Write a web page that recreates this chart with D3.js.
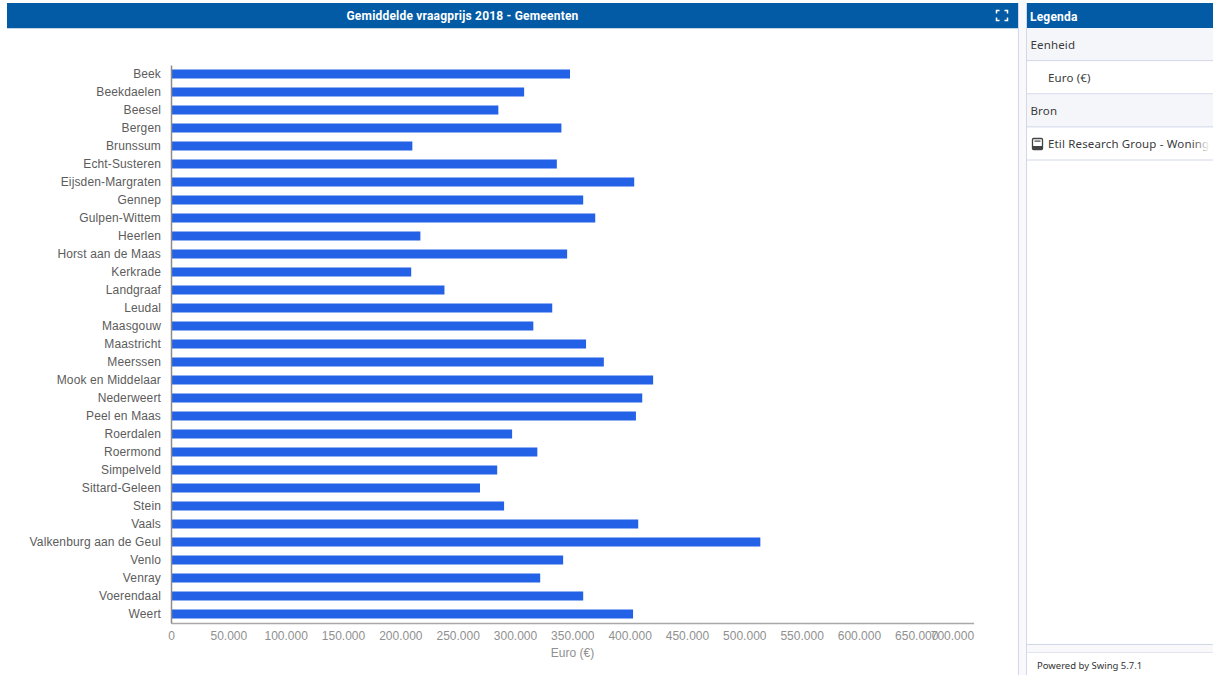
<!DOCTYPE html>
<html>
<head>
<meta charset="utf-8">
<script src="https://d3js.org/d3.v7.min.js"></script>
<style>
	html, body { margin: 0; padding: 0; background: #fff; overflow: hidden; }
	svg { display: block; }
	.tick line { display: none; }
</style>
</head>
<body>
<div id="chart"></div>
<script>
// gemeenten, van boven naar beneden
const gemeenten = ["Beek", "Beekdaelen", "Beesel", "Bergen", "Brunssum", "Echt-Susteren", "Eijsden-Margraten", "Gennep", "Gulpen-Wittem", "Heerlen", "Horst aan de Maas", "Kerkrade", "Landgraaf", "Leudal", "Maasgouw", "Maastricht", "Meerssen", "Mook en Middelaar", "Nederweert", "Peel en Maas", "Roerdalen", "Roermond", "Simpelveld", "Sittard-Geleen", "Stein", "Vaals", "Valkenburg aan de Geul", "Venlo", "Venray", "Voerendaal", "Weert"]
const vraagprijs = [348000, 308000, 285500, 340500, 210500, 336500, 404000, 359500, 370000, 217500, 345500, 209500, 238500, 332500, 316000, 362000, 377500, 420500, 411000, 405500, 297500, 319500, 284500, 269500, 290500, 407500, 514000, 342000, 322000, 359500, 403000]
const xTicks = [0, 50000, 100000, 150000, 200000, 250000, 300000, 350000, 400000, 450000, 500000, 550000, 600000, 650000, 700000]
const legendaRijen = ["Eenheid", "Euro (€)", "Bron", "Etil Research Group - Woningmarkt"]

const width = 1213
const height = 675
const margin = { top: 65, right: 239, bottom: 52, left: 171 }
const uiFont = "'Noto Sans', 'Open Sans', sans-serif"
const chartFont = "'Liberation Sans', Arial, sans-serif"

const svg = d3.select("#chart")
	.append("svg")
	.attr("width", width)
	.attr("height", height)

// linker paneel
svg.append("rect")
	.attr("x", 7).attr("y", 3)
	.attr("width", 1011.5).attr("height", 25)
	.attr("fill", "#035ba5")
svg.append("rect")
	.attr("x", 1019).attr("y", 0)
	.attr("width", 7).attr("height", 675)
	.attr("fill", "#f9f9fb")
svg.append("line")
	.attr("x1", 7).attr("x2", 1018)
	.attr("y1", 28.5).attr("y2", 28.5)
	.attr("stroke", "#c3d3e4")
svg.append("line")
	.attr("x1", 1018.5).attr("x2", 1018.5)
	.attr("y1", 3).attr("y2", 675)
	.attr("stroke", "#d3d7ea")
svg.append("text")
	.attr("x", 462.5).attr("y", 20)
	.attr("text-anchor", "middle")
	.style("font-family", "Roboto, sans-serif")
	.style("font-size", "12px")
	.style("font-weight", "bold")
	.style("letter-spacing", "0.2px")
	.style("fill", "#fff")
	.text("Gemiddelde vraagprijs 2018 - Gemeenten")

// fullscreen icoon
const icon = svg.append("g")
	.attr("transform", "translate(996.5,10.5)")
	.attr("fill", "none")
	.attr("stroke", "#fff")
	.attr("stroke-width", 1.5)
icon.selectAll("path")
	.data(["M0 3V0H3", "M8 0H11V3", "M11 7V10H8", "M3 10H0V7"])
	.join("path")
	.attr("d", d => d)

// schalen
const innerWidth = width - margin.left - margin.right - 0.4
const xScale = d3.scaleLinear()
	.domain([0, 700000])
	.range([margin.left, margin.left + innerWidth])
const yScale = d3.scaleBand()
	.domain(gemeenten)
	.range([margin.top, 623])
	.paddingInner(0.5)
	.paddingOuter(0.25)

const nl = d3.formatLocale({ decimal: ",", thousands: ".", grouping: [3], currency: ["€", ""] })

// balken
svg.append("g")
	.selectAll("rect")
	.data(gemeenten)
	.join("rect")
	.attr("x", xScale(0))
	.attr("y", d => yScale(d))
	.attr("width", (d, i) => xScale(vraagprijs[i]) - xScale(0))
	.attr("height", yScale.bandwidth())
	.attr("fill", "#2361e6")

// x as
const xAxis = svg.append("g")
	.attr("transform", "translate(0,623)")
	.call(d3.axisBottom(xScale).tickValues(xTicks).tickFormat(d => nl.format(",")(d)).tickSize(0).tickPadding(8))
xAxis.select(".domain").attr("stroke", "#a8a8a8").attr("stroke-width", 1.5)
xAxis.selectAll("text")
	.style("font-family", chartFont)
	.style("font-size", "12px")
	.style("fill", "#909090")
// laatste label schuift naar binnen, net als in het origineel
xAxis.selectAll(".tick")
	.filter(d => d == 700000)
	.select("text")
	.attr("text-anchor", "end")

svg.append("text")
	.attr("x", 572.5).attr("y", 657)
	.attr("text-anchor", "middle")
	.style("font-family", chartFont)
	.style("font-size", "12px")
	.style("fill", "#909090")
	.text("Euro (€)")

// y as
const yAxis = svg.append("g")
	.attr("transform", `translate(${margin.left},0)`)
	.call(d3.axisLeft(yScale).tickSize(0).tickPadding(10))
yAxis.select(".domain").attr("stroke", "#8c8c8c").attr("stroke-width", 1.5)
yAxis.selectAll("text")
	.style("font-family", chartFont)
	.style("font-size", "12px")
	.style("letter-spacing", "0.13px")
	.style("fill", "#5c5c5c")

// legenda
const legenda = svg.append("g")
svg.append("rect")
	.attr("x", 1027).attr("y", 3)
	.attr("width", 186).attr("height", 25)
	.attr("fill", "#035ba5")
svg.append("text")
	.attr("x", 1030).attr("y", 20.5)
	.style("font-family", "Roboto, sans-serif")
	.style("font-size", "12px")
	.style("font-weight", "bold")
	.style("letter-spacing", "0.2px")
	.style("fill", "#fff")
	.text("Legenda")

const rijTop = d3.scaleBand().domain(legendaRijen).range([28, 160.5])
legenda.selectAll("rect")
	.data(legendaRijen)
	.join("rect")
	.attr("x", 1027)
	.attr("y", d => rijTop(d))
	.attr("width", 186)
	.attr("height", rijTop.bandwidth())
	.attr("fill", (d, i) => i % 2 == 0 ? "#f5f6f9" : "#fff")
legenda.selectAll("line")
	.data(legendaRijen)
	.join("line")
	.attr("x1", 1027).attr("x2", 1213)
	.attr("y1", d => rijTop(d) + rijTop.bandwidth() - 0.5)
	.attr("y2", d => rijTop(d) + rijTop.bandwidth() - 0.5)
	.attr("stroke", "#d3d7ea")

const defs = svg.append("defs")
const fade = defs.append("linearGradient").attr("id", "fade")
fade.append("stop").attr("offset", 0).attr("stop-color", "#fff").attr("stop-opacity", 0)
fade.append("stop").attr("offset", 0.85).attr("stop-color", "#fff").attr("stop-opacity", 1)

legenda.selectAll("text")
	.data(legendaRijen)
	.join("text")
	.attr("x", (d, i) => i % 2 == 0 ? 1030.5 : 1048)
	.attr("y", d => rijTop(d) + rijTop.bandwidth() / 2 + 4.5)
	.style("font-family", uiFont)
	.style("font-size", "11.5px")
	.style("letter-spacing", "0.15px")
	.style("fill", "#3a3a3a")
	.text(d => d)

// boek icoon en vervaging van de afgesneden tekst
const boek = svg.append("g").attr("transform", "translate(1032,138)")
boek.append("rect").attr("x", 0.5).attr("y", 0.5).attr("width", 10).attr("height", 11).attr("rx", 1)
	.attr("fill", "none").attr("stroke", "#444").attr("stroke-width", 1.3)
boek.append("rect").attr("x", 2.5).attr("y", 2.5).attr("width", 6).attr("height", 1.2).attr("fill", "#444")
boek.append("rect").attr("x", 1).attr("y", 8).attr("width", 9).attr("height", 3.5).attr("fill", "#444")
svg.append("rect")
	.attr("x", 1192).attr("y", 135)
	.attr("width", 21).attr("height", 20)
	.attr("fill", "url(#fade)")

// rand rond de legenda en footer
svg.append("line")
	.attr("x1", 1026.5).attr("x2", 1026.5)
	.attr("y1", 3).attr("y2", 675)
	.attr("stroke", "#d3d7ea")
svg.append("line")
	.attr("x1", 1027).attr("x2", 1213)
	.attr("y1", 644.5).attr("y2", 644.5)
	.attr("stroke", "#d3d7ea")
svg.append("rect")
	.attr("x", 1027).attr("y", 645)
	.attr("width", 186).attr("height", 7)
	.attr("fill", "#f9f9fb")
svg.append("line")
	.attr("x1", 1027).attr("x2", 1213)
	.attr("y1", 652.5).attr("y2", 652.5)
	.attr("stroke", "#e4e4ec")
svg.append("text")
	.attr("x", 1037).attr("y", 669)
	.style("font-family", uiFont)
	.style("font-size", "9.5px")
	.style("fill", "#333")
	.text("Powered by Swing 5.7.1")
</script>
</body>
</html>
